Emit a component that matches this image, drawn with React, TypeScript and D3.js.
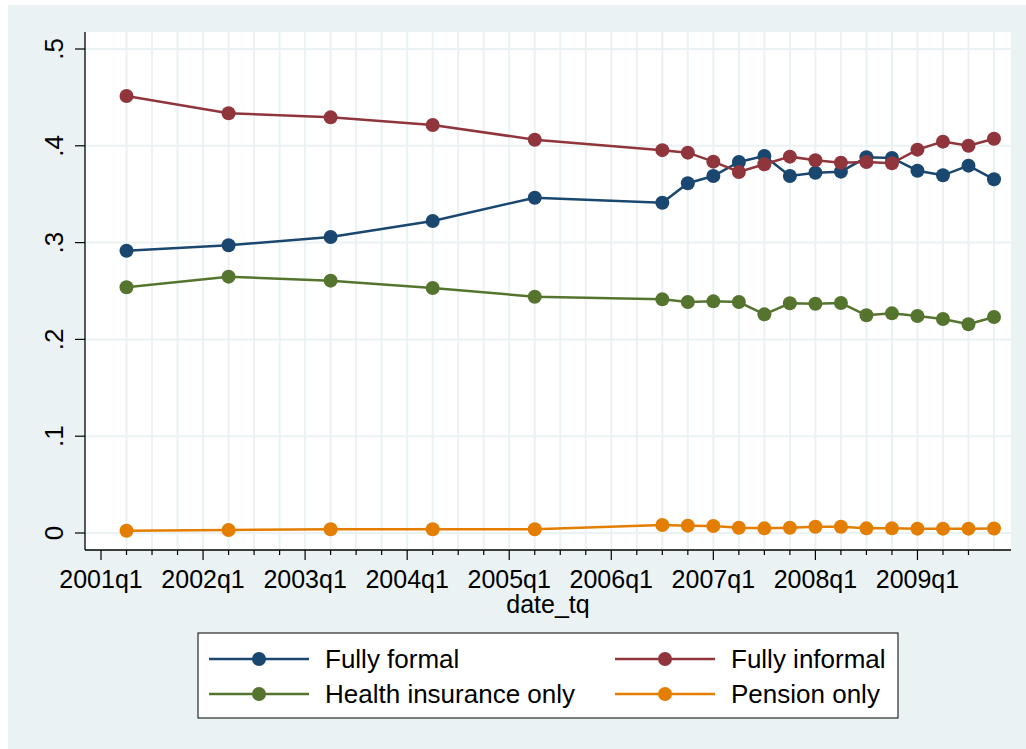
import React from "react";
import * as d3 from "d3";

const periods = ["2001q2","2002q2","2003q2","2004q2","2005q2","2006q3","2006q4","2007q1","2007q2","2007q3","2007q4","2008q1","2008q2","2008q3","2008q4","2009q1","2009q2","2009q3","2009q4"];
const fullyFormal = [0.2916,0.2972,0.3058,0.3223,0.3464,0.3412,0.3613,0.3688,0.3833,0.3895,0.3688,0.3722,0.3733,0.3881,0.3874,0.3743,0.3695,0.3795,0.3654];
const fullyInformal = [0.4514,0.4336,0.4294,0.4215,0.4063,0.3955,0.3929,0.3836,0.3729,0.3809,0.3888,0.3850,0.3826,0.3833,0.3819,0.3960,0.4043,0.4001,0.4073];
const healthOnly = [0.2538,0.2648,0.2607,0.2531,0.2441,0.2414,0.2386,0.2393,0.2386,0.2259,0.2373,0.2369,0.2376,0.2249,0.2269,0.2242,0.2211,0.2156,0.2231];
const pensionOnly = [0.0024,0.0031,0.0038,0.0038,0.0038,0.0083,0.0076,0.0072,0.0055,0.0048,0.0055,0.0065,0.0065,0.0048,0.0048,0.0045,0.0045,0.0045,0.0046];
const yTicks = [0, 0.1, 0.2, 0.3, 0.4, 0.5];
const yTickLabels = ["0", ".1", ".2", ".3", ".4", ".5"];
const xMajorLabels = ["2001q1","2002q1","2003q1","2004q1","2005q1","2006q1","2007q1","2008q1","2009q1"];
const seriesNames = ["Fully formal", "Fully informal", "Health insurance only", "Pension only"];
const seriesColors = ["#1A476F", "#90353B", "#55752F", "#E37E00"];
const xTitle = "date_tq";

const qIndex = (p: string) => (parseInt(p.slice(0, 4)) - 2001) * 4 + (parseInt(p.slice(5)) - 1);

export default function App() {
  const W = 1026, H = 749;
  const left = 85, right = 1011, top = 32, bottom = 550;
  const x = d3.scaleLinear().domain([0, 35]).range([101, 994]);
  const y = d3.scaleLinear().domain([0, 0.5]).range([533, 49]);
  const font = "'Liberation Sans', Arial, sans-serif";
  const allSeries = [fullyFormal, fullyInformal, healthOnly, pensionOnly];
  const line = d3.line<[number, number]>().x(d => x(d[0])).y(d => y(d[1]));
  const gridQ = d3.range(1, 36);
  const minorQ = d3.range(1, 35).filter(q => q % 4 !== 0);
  const majorQ = xMajorLabels.map(qIndex);

  const legendItems = seriesNames.map((name, i) => {
    const col = i % 2, row = Math.floor(i / 2);
    const lx = col === 0 ? 209 : 615;
    const ly = row === 0 ? 659 : 694;
    return { name, color: seriesColors[i], lx, ly };
  });

  return (
    <svg width={W} height={H} style={{ position: "fixed", left: 0, top: 0 }} fontFamily={font}>
      <rect x={0} y={0} width={W} height={H} fill="#ffffff" />
      <rect x={8} y={5} width={W - 8} height={H - 5} fill="#EAF2F3" />
      <rect x={left} y={top} width={right - left} height={bottom - top} fill="#ffffff" />
      {yTicks.map((t, i) => (
        <line key={"hg" + i} x1={left} x2={right} y1={y(t)} y2={y(t)} stroke="#EAF2F3" strokeWidth={2} />
      ))}
      {gridQ.map(q => (
        <line key={"vg" + q} x1={x(q)} x2={x(q)} y1={top} y2={bottom} stroke="#EAF2F3" strokeWidth={2} />
      ))}
      {/* axes */}
      <line x1={left} x2={left} y1={top} y2={bottom} stroke="#000" strokeWidth={1.3} />
      <line x1={left} x2={right} y1={bottom} y2={bottom} stroke="#000" strokeWidth={1.3} />
      {yTicks.map((t, i) => (
        <g key={"yt" + i}>
          <line x1={left - 10} x2={left} y1={y(t)} y2={y(t)} stroke="#000" strokeWidth={1.2} />
          <text transform={`translate(63,${y(t)}) rotate(-90)`} textAnchor="middle" fontSize={26} fill="#000">{yTickLabels[i]}</text>
        </g>
      ))}
      {minorQ.map(q => (
        <line key={"mt" + q} x1={x(q)} x2={x(q)} y1={bottom} y2={bottom + 5} stroke="#000" strokeWidth={1.2} />
      ))}
      {majorQ.map((q, i) => (
        <g key={"xt" + q}>
          <line x1={x(q)} x2={x(q)} y1={bottom} y2={bottom + 10} stroke="#000" strokeWidth={1.2} />
          <text x={x(q)} y={588} textAnchor="middle" fontSize={25} fill="#000">{xMajorLabels[i]}</text>
        </g>
      ))}
      <text x={(left + right) / 2} y={613} textAnchor="middle" fontSize={25} fill="#000">{xTitle}</text>
      {/* series */}
      {allSeries.map((vals, si) => {
        const pts: [number, number][] = periods.map((p, i) => [qIndex(p), vals[i]]);
        return (
          <g key={"s" + si}>
            <path d={line(pts) || ""} fill="none" stroke={seriesColors[si]} strokeWidth={2.5} />
            {pts.map((d, i) => (
              <circle key={i} cx={x(d[0])} cy={y(d[1])} r={7} fill={seriesColors[si]} />
            ))}
          </g>
        );
      })}
      {/* legend */}
      <rect x={198} y={633} width={700} height={85} fill="#ffffff" stroke="#000" strokeWidth={1} />
      {legendItems.map((it, i) => (
        <g key={"lg" + i}>
          <line x1={it.lx} x2={it.lx + 100} y1={it.ly} y2={it.ly} stroke={it.color} strokeWidth={2.5} />
          <circle cx={it.lx + 50} cy={it.ly} r={7} fill={it.color} />
          <text x={it.lx + 116} y={it.ly + 9} fontSize={26} fill="#000">{it.name}</text>
        </g>
      ))}
    </svg>
  );
}
